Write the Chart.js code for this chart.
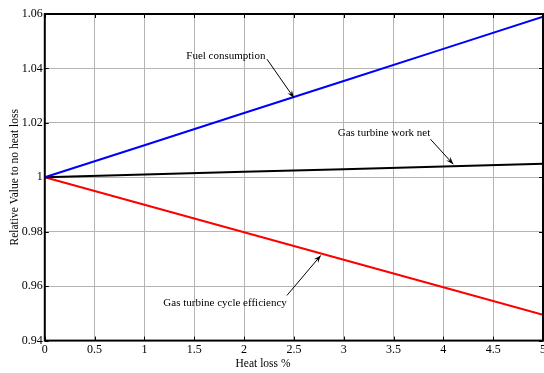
<!DOCTYPE html>
<html>
<head>
  <meta charset="UTF-8" />
  <title>Heat loss</title>
  <script src="https://cdn.jsdelivr.net/npm/chart.js"></script>
  <style>
    body { margin: 0; background: #fff; overflow: hidden; }
    #wrap { width: 548px; height: 373px; }
  </style>
</head>
<body>
  <div id="wrap"><canvas id="chart"></canvas></div>
  <script>
    // heat loss % and relative values
    const heatLoss = [0, 1, 2, 3, 4, 5];
    const fuelConsumption = [1, 1.0118, 1.0236, 1.0354, 1.0472, 1.059];
    const workNet = [1, 1.001, 1.002, 1.003, 1.004, 1.005];
    const cycleEfficiency = [1, 0.9899, 0.9798, 0.9697, 0.9596, 0.9495];

    // labels with arrows (text pos, arrow start, arrow end) in data units
    const notes = [
      { text: 'Fuel consumption', tx: 1.42, ty: 1.0445, x0: 2.23, y0: 1.0434, x1: 2.5, y1: 1.0292 },
      { text: 'Gas turbine work net', tx: 2.94, ty: 1.0163, x0: 3.87, y0: 1.014, x1: 4.1, y1: 1.0048 },
      { text: 'Gas turbine cycle efficiency', tx: 1.19, ty: 0.9536, x0: 2.43, y0: 0.9566, x1: 2.77, y1: 0.9713 }
    ];

    const serif = "'Liberation Serif', 'Times New Roman', serif";

    function pts(ys) {
      return heatLoss.map((x, i) => ({ x: x, y: ys[i] }));
    }

    const annotate = {
      id: 'annotate',
      afterDraw(chart) {
        const ctx = chart.ctx;
        const xs = chart.scales.x, ys = chart.scales.y;
        const a = chart.chartArea;
        ctx.save();
        // inward ticks
        ctx.strokeStyle = '#000';
        ctx.lineWidth = 1;
        xs.ticks.forEach(t => {
          const px = Math.round(xs.getPixelForValue(t.value)) + 0.5;
          ctx.beginPath();
          ctx.moveTo(px, a.bottom); ctx.lineTo(px, a.bottom - 4);
          ctx.moveTo(px, a.top); ctx.lineTo(px, a.top + 4);
          ctx.stroke();
        });
        ys.ticks.forEach(t => {
          const py = Math.round(ys.getPixelForValue(t.value)) + 0.5;
          ctx.beginPath();
          ctx.moveTo(a.left, py); ctx.lineTo(a.left + 4, py);
          ctx.moveTo(a.right, py); ctx.lineTo(a.right - 4, py);
          ctx.stroke();
        });
        // frame
        ctx.lineWidth = 2;
        ctx.strokeRect(a.left, a.top, a.right - a.left, a.bottom - a.top);
        // x axis title (sits left of centre in the original)
        ctx.fillStyle = '#000';
        ctx.font = '11.5px ' + serif;
        ctx.textAlign = 'center';
        ctx.textBaseline = 'middle';
        ctx.fillText('Heat loss %', xs.getPixelForValue(2.19), a.bottom + 23);
        // notes
        ctx.textAlign = 'left';
        ctx.font = '11px ' + serif;
        ctx.lineWidth = 1;
        notes.forEach(n => {
          ctx.fillText(n.text, xs.getPixelForValue(n.tx), ys.getPixelForValue(n.ty));
          const sx = xs.getPixelForValue(n.x0), sy = ys.getPixelForValue(n.y0);
          const ex = xs.getPixelForValue(n.x1), ey = ys.getPixelForValue(n.y1);
          ctx.beginPath();
          ctx.moveTo(sx, sy); ctx.lineTo(ex, ey);
          ctx.stroke();
          const ang = Math.atan2(ey - sy, ex - sx);
          const L = 8, w = 0.35;
          ctx.beginPath();
          ctx.moveTo(ex, ey);
          ctx.lineTo(ex - L * Math.cos(ang - w), ey - L * Math.sin(ang - w));
          ctx.lineTo(ex - L * 0.6 * Math.cos(ang), ey - L * 0.6 * Math.sin(ang));
          ctx.lineTo(ex - L * Math.cos(ang + w), ey - L * Math.sin(ang + w));
          ctx.closePath();
          ctx.fill();
        });
        ctx.restore();
      }
    };

    new Chart(document.getElementById('chart'), {
      type: 'line',
      data: {
        datasets: [
          { label: 'Fuel consumption', data: pts(fuelConsumption), borderColor: '#0000ff', borderWidth: 2, pointRadius: 0, tension: 0 },
          { label: 'Gas turbine work net', data: pts(workNet), borderColor: '#000000', borderWidth: 2, pointRadius: 0, tension: 0 },
          { label: 'Gas turbine cycle efficiency', data: pts(cycleEfficiency), borderColor: '#ff0000', borderWidth: 2, pointRadius: 0, tension: 0 }
        ]
      },
      options: {
        responsive: true,
        maintainAspectRatio: false,
        animation: false,
        layout: { padding: { left: 8, right: 0, top: 14, bottom: 14 } },
        plugins: { legend: { display: false }, tooltip: { enabled: false } },
        scales: {
          x: {
            type: 'linear',
            min: 0, max: 5,
            ticks: { stepSize: 0.5, color: '#000', font: { family: serif, size: 12 }, padding: 2, maxRotation: 0,
              callback: v => String(v) },
            grid: { color: '#b4b4b4', tickLength: 0 },
            border: { display: false }
          },
          y: {
            min: 0.94, max: 1.06,
            ticks: { stepSize: 0.02, color: '#000', font: { family: serif, size: 12 }, padding: 2,
              callback: v => String(Math.round(v * 100) / 100) },
            grid: { color: '#b4b4b4', tickLength: 0 },
            border: { display: false },
            title: { display: true, text: 'Relative Value to no heat loss', color: '#000', font: { family: serif, size: 11.5 }, padding: { top: 0, bottom: -2 } }
          }
        }
      },
      plugins: [annotate]
    });
  </script>
</body>
</html>
